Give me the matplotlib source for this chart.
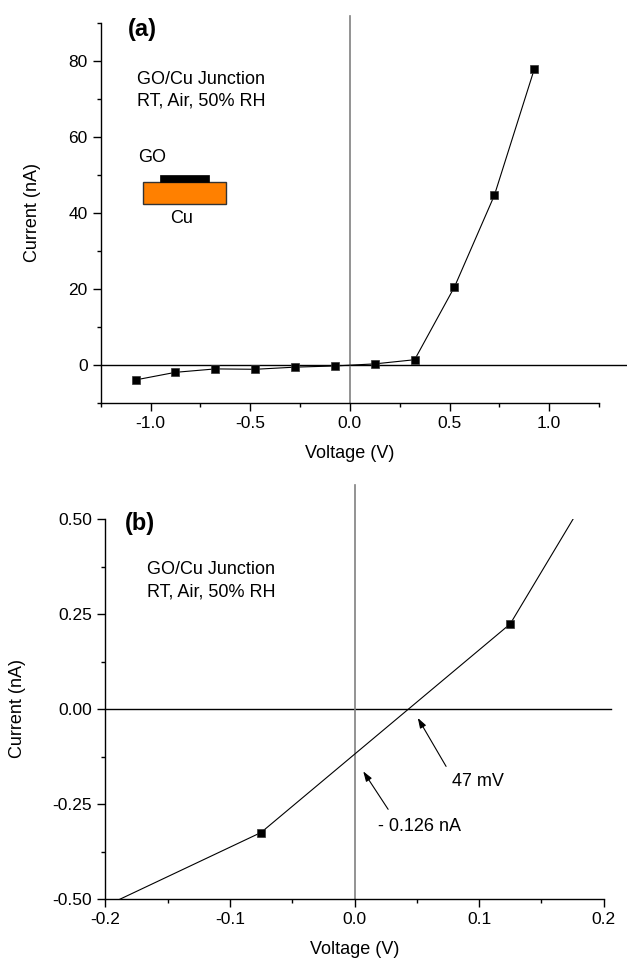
import matplotlib
matplotlib.use("Agg")
import matplotlib.pyplot as plt
from matplotlib.patches import Rectangle
from matplotlib.ticker import MultipleLocator

plt.rcParams['font.family'] = ['Liberation Sans', 'DejaVu Sans']
plt.rcParams['axes.unicode_minus'] = False

# Data (shared by both panels; panel b is a zoom of panel a)
voltage = [-1.075, -0.875, -0.675, -0.475, -0.275, -0.075, 0.125, 0.325, 0.525, 0.725, 0.925]
current = [-4.0, -2.0, -1.1, -1.2, -0.635, -0.325, 0.224, 1.318, 20.5, 44.6, 77.8]

xticks_a = [-1.0, -0.5, 0.0, 0.5, 1.0]
yticks_a = [0, 20, 40, 60, 80]
xticks_b = [-0.2, -0.1, 0.0, 0.1, 0.2]
yticks_b = [-0.50, -0.25, 0.00, 0.25, 0.50]

W, H = 627, 961
fig = plt.figure(figsize=(W / 100, H / 100), dpi=100)

def ax_rect(l, r, t, b):
    return [l / W, 1 - b / H, (r - l) / W, (b - t) / H]

ax1 = fig.add_axes(ax_rect(100.7, 599, 23, 402.7))
ax2 = fig.add_axes(ax_rect(105.3, 603.7, 519, 899))

TICK_FS = 12.5
LAB_FS = 13
TXT_FS = 13

def style(ax):
    for s in ['top', 'right']:
        ax.spines[s].set_visible(False)
    for s in ['left', 'bottom']:
        ax.spines[s].set_linewidth(1.0)
    ax.tick_params(which='major', direction='out', length=5.5, width=1.0,
                   labelsize=TICK_FS, pad=4)
    ax.tick_params(which='minor', direction='out', length=3, width=1.0)

# ---------- Panel (a) ----------
ax = ax1
ax.plot(voltage, current, color='black', lw=0.8, marker='s', ms=6.3,
        mfc='black', mec='#333333', mew=0.5, zorder=3)
ax.set_xlim(-1.25, 1.25)
ax.set_ylim(-10, 90)
ax.set_xticks(xticks_a)
ax.set_yticks(yticks_a)
ax.xaxis.set_minor_locator(MultipleLocator(0.25))
ax.yaxis.set_minor_locator(MultipleLocator(10))
style(ax)
ax.plot([-1.25, 1.39], [0, 0], color='black', lw=1.0, clip_on=False, zorder=2)
ax.plot([0, 0], [-10, 91.9], color='#808080', lw=1.2, clip_on=False, zorder=2)
ax.set_xlabel('Voltage (V)', fontsize=LAB_FS)
ax.set_ylabel('Current (nA)', fontsize=LAB_FS)
ax.xaxis.set_label_coords(0.5, -0.134)
ax.yaxis.set_label_coords(-0.136, 0.5)
ax.xaxis.label.set_va('center')
ax.yaxis.label.set_va('center')
ax.text(0.0542, 0.984, '(a)', transform=ax.transAxes, fontsize=17,
        fontweight='bold', va='center', ha='left')
ax.text(0.0728, 0.852, 'GO/Cu Junction', transform=ax.transAxes,
        fontsize=TXT_FS, va='center', ha='left')
ax.text(0.0728, 0.7947, 'RT, Air, 50% RH', transform=ax.transAxes,
        fontsize=TXT_FS, va='center', ha='left')
# schematic inset
ax.add_patch(Rectangle((0.0855, 0.5233), 0.2508 - 0.0855, 0.5813 - 0.5233,
                       transform=ax.transAxes, facecolor='#FF8000',
                       edgecolor='#333333', lw=1.0, zorder=4))
ax.add_patch(Rectangle((0.119, 0.5813), 0.2167 - 0.119, 0.6005 - 0.5813,
                       transform=ax.transAxes, facecolor='black',
                       edgecolor='black', lw=0.5, zorder=4))
ax.text(0.0742, 0.6445, 'GO', transform=ax.transAxes, fontsize=TXT_FS,
        va='center', ha='left')
ax.text(0.139, 0.4864, 'Cu', transform=ax.transAxes, fontsize=TXT_FS,
        va='center', ha='left')

# ---------- Panel (b) ----------
ax = ax2
ax.plot(voltage, current, color='black', lw=0.8, marker='s', ms=6.3,
        mfc='black', mec='#333333', mew=0.5, zorder=3)
ax.set_xlim(-0.2, 0.2)
ax.set_ylim(-0.5, 0.5)
ax.set_xticks(xticks_b)
ax.set_yticks(yticks_b)
ax.set_yticklabels(['%.2f' % v for v in yticks_b])
ax.set_xticklabels(['%.1f' % v for v in xticks_b])
ax.xaxis.set_minor_locator(MultipleLocator(0.05))
ax.yaxis.set_minor_locator(MultipleLocator(0.125))
style(ax)
ax.plot([-0.2, 0.206], [0, 0], color='black', lw=1.0, clip_on=False, zorder=2)
ax.plot([0, 0], [-0.5, 0.59], color='#808080', lw=1.2, clip_on=False, zorder=2)
ax.set_xlabel('Voltage (V)', fontsize=LAB_FS)
ax.set_ylabel('Current (nA)', fontsize=LAB_FS)
ax.xaxis.set_label_coords(0.5, -0.134)
ax.yaxis.set_label_coords(-0.177, 0.5)
ax.xaxis.label.set_va('center')
ax.yaxis.label.set_va('center')
ax.text(0.0395, 0.9876, '(b)', transform=ax.transAxes, fontsize=17,
        fontweight='bold', va='center', ha='left')
ax.text(0.0831, 0.8658, 'GO/Cu Junction', transform=ax.transAxes,
        fontsize=TXT_FS, va='center', ha='left')
ax.text(0.0831, 0.8087, 'RT, Air, 50% RH', transform=ax.transAxes,
        fontsize=TXT_FS, va='center', ha='left')
arrow = dict(arrowstyle='-|>,head_length=0.6,head_width=0.2', color='black',
             lw=0.8, shrinkA=0, shrinkB=0)
ax.annotate('', xy=(0.0508, -0.0236), xytext=(0.0735, -0.151),
            arrowprops=arrow)
ax.text(0.0786, -0.190, '47 mV', fontsize=TXT_FS, va='center', ha='left')
ax.annotate('', xy=(0.007, -0.164), xytext=(0.027, -0.264),
            arrowprops=arrow)
ax.text(0.01925, -0.309, '- 0.126 nA', fontsize=TXT_FS, va='center', ha='left')

fig.savefig('out.png', dpi=100)
